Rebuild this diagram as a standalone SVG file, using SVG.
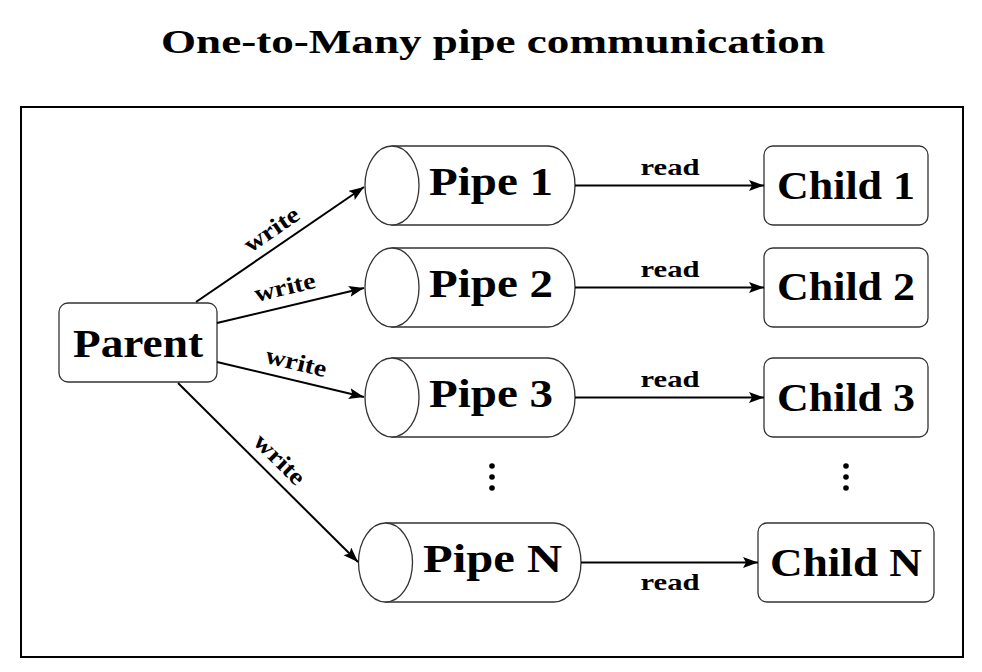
<svg xmlns="http://www.w3.org/2000/svg" width="982" height="672" viewBox="0 0 982 672">
<defs>
<style>
.box{fill:#fff;stroke:#333;stroke-width:1.3}
.lbl{font-family:"Liberation Serif","DejaVu Serif",serif;font-weight:bold;font-size:40px;fill:#000;text-anchor:middle}
.small{font-family:"Liberation Serif","DejaVu Serif",serif;font-weight:bold;font-size:24px;fill:#000;text-anchor:middle}
.edge{stroke:#000;stroke-width:2;fill:none;marker-end:url(#ah)}
.dot{fill:#000}
</style>
<marker id="ah" markerUnits="userSpaceOnUse" markerWidth="16" markerHeight="12" refX="15" refY="5.5" orient="auto">
<path d="M0,0 L15,5.5 L0,11 L3,5.5 z" fill="#000"/>
</marker>
</defs>
<rect width="982" height="672" fill="#fff"/>
<text x="493" y="53" style="font-family:'Liberation Serif','DejaVu Serif',serif;font-weight:bold;font-size:34px;text-anchor:middle" textLength="664" lengthAdjust="spacingAndGlyphs">One-to-Many pipe communication</text>
<rect x="21" y="107" width="942" height="550" fill="none" stroke="#000" stroke-width="2"/>

<g id="parent">
<rect class="box" x="59" y="303" width="158" height="79" rx="9"/>
<text class="lbl" x="138" y="357" textLength="130" lengthAdjust="spacingAndGlyphs">Parent</text>
</g>

<g id="pipe1">
<path class="box" d="M392,146 H548 A27,39.5 0 0 1 548,225 H392 Z"/>
<ellipse class="box" cx="392" cy="185.5" rx="27" ry="39.5"/>
<text class="lbl" x="491" y="195" textLength="124" lengthAdjust="spacingAndGlyphs">Pipe 1</text>
</g>
<g id="pipe2">
<path class="box" d="M392,248 H548 A27,39.5 0 0 1 548,327 H392 Z"/>
<ellipse class="box" cx="392" cy="287.5" rx="27" ry="39.5"/>
<text class="lbl" x="491" y="297" textLength="124" lengthAdjust="spacingAndGlyphs">Pipe 2</text>
</g>
<g id="pipe3">
<path class="box" d="M392,358 H548 A27,39.5 0 0 1 548,437 H392 Z"/>
<ellipse class="box" cx="392" cy="397.5" rx="27" ry="39.5"/>
<text class="lbl" x="491" y="407" textLength="124" lengthAdjust="spacingAndGlyphs">Pipe 3</text>
</g>
<g id="pipeN">
<path class="box" d="M385.5,523 H554 A27,39.5 0 0 1 554,602 H385.5 Z"/>
<ellipse class="box" cx="385.5" cy="562.5" rx="27" ry="39.5"/>
<text class="lbl" x="492.5" y="572" textLength="139" lengthAdjust="spacingAndGlyphs">Pipe N</text>
</g>

<g id="child1">
<rect class="box" x="764" y="146" width="164" height="79" rx="9"/>
<text class="lbl" x="846" y="199" textLength="138" lengthAdjust="spacingAndGlyphs">Child 1</text>
</g>
<g id="child2">
<rect class="box" x="764" y="248" width="164" height="79" rx="9"/>
<text class="lbl" x="846" y="300" textLength="138" lengthAdjust="spacingAndGlyphs">Child 2</text>
</g>
<g id="child3">
<rect class="box" x="764" y="358" width="164" height="79" rx="9"/>
<text class="lbl" x="846" y="411" textLength="138" lengthAdjust="spacingAndGlyphs">Child 3</text>
</g>
<g id="childN">
<rect class="box" x="758" y="523" width="176" height="79" rx="9"/>
<text class="lbl" x="846" y="576" textLength="152" lengthAdjust="spacingAndGlyphs">Child N</text>
</g>

<g id="dots">
<circle class="dot" cx="492" cy="466" r="2.8"/>
<circle class="dot" cx="492" cy="477" r="2.8"/>
<circle class="dot" cx="492" cy="488" r="2.8"/>
<circle class="dot" cx="846" cy="466" r="2.8"/>
<circle class="dot" cx="846" cy="477" r="2.8"/>
<circle class="dot" cx="846" cy="488" r="2.8"/>
</g>

<g id="connectors">
<line class="edge" x1="196" y1="302" x2="364" y2="187"/>
<line class="edge" x1="217" y1="323" x2="364" y2="288"/>
<line class="edge" x1="217" y1="362" x2="364" y2="397"/>
<line class="edge" x1="178" y1="383" x2="358" y2="562"/>
<line class="edge" x1="575" y1="185.5" x2="764" y2="185.5"/>
<line class="edge" x1="575" y1="287.5" x2="764" y2="287.5"/>
<line class="edge" x1="575" y1="397.5" x2="764" y2="397.5"/>
<line class="edge" x1="581" y1="562.5" x2="758" y2="562.5"/>
<text class="small" transform="translate(272,230) rotate(-34.6)" y="7" textLength="62" lengthAdjust="spacingAndGlyphs">write</text>
<text class="small" transform="translate(285,288) rotate(-13.5)" y="7" textLength="62" lengthAdjust="spacingAndGlyphs">write</text>
<text class="small" transform="translate(296,363) rotate(13.5)" y="7" textLength="62" lengthAdjust="spacingAndGlyphs">write</text>
<text class="small" transform="translate(279,460) rotate(44.8)" y="7" textLength="62" lengthAdjust="spacingAndGlyphs">write</text>
<text class="small" x="670" y="175" textLength="59" lengthAdjust="spacingAndGlyphs">read</text>
<text class="small" x="670" y="277" textLength="59" lengthAdjust="spacingAndGlyphs">read</text>
<text class="small" x="670" y="387" textLength="59" lengthAdjust="spacingAndGlyphs">read</text>
<text class="small" x="670" y="590" textLength="59" lengthAdjust="spacingAndGlyphs">read</text>
</g>
</svg>
